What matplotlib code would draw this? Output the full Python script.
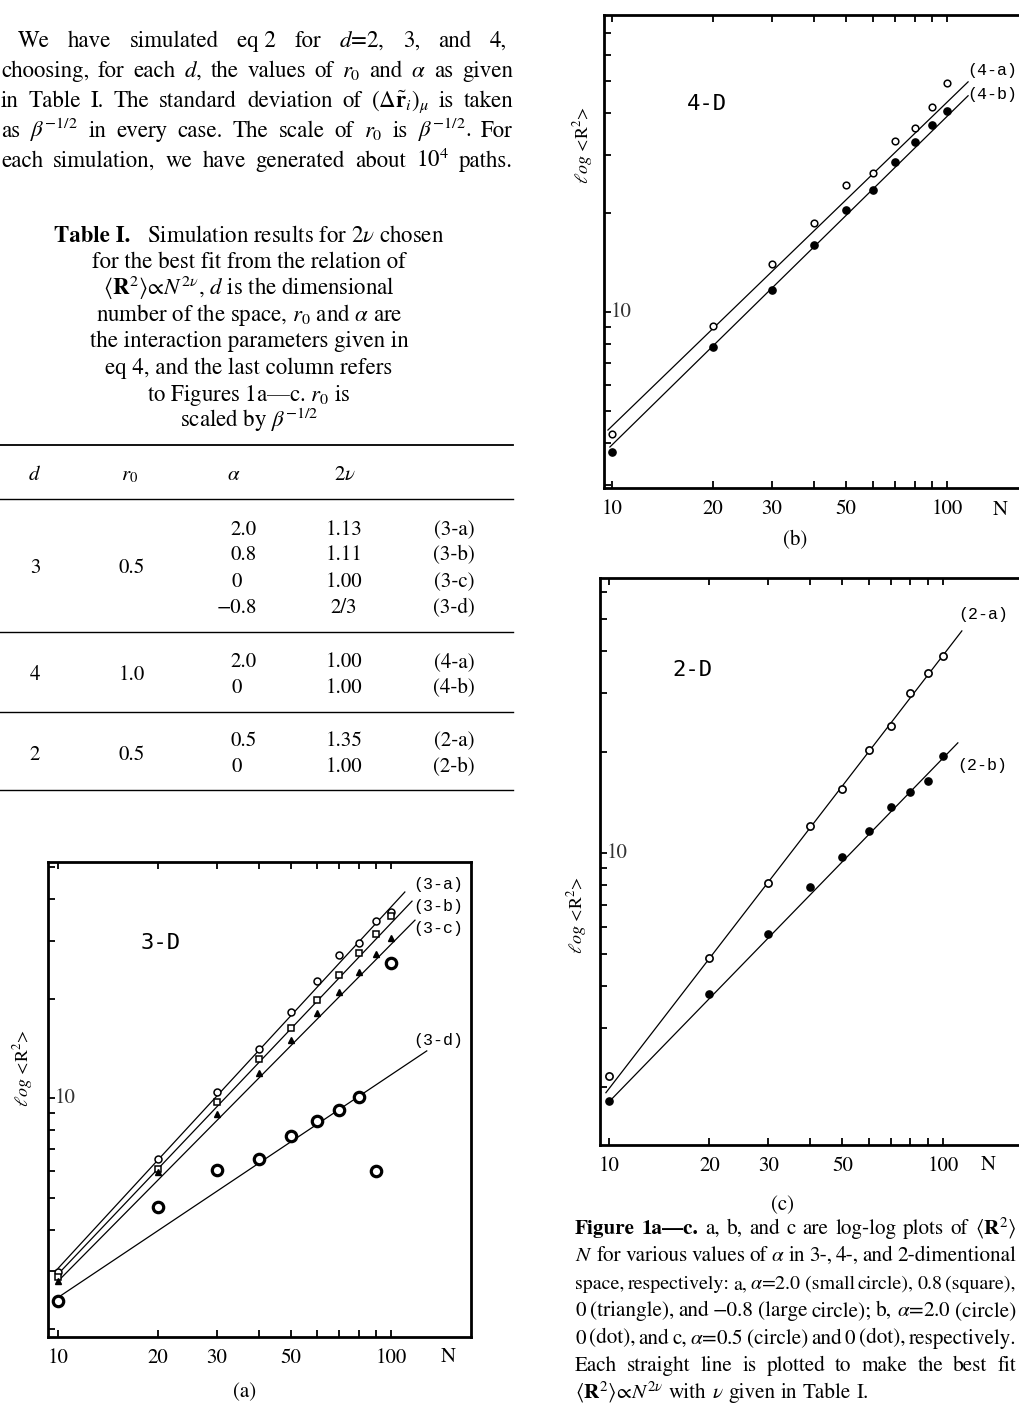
import matplotlib
matplotlib.use('Agg')
import matplotlib.pyplot as plt
from matplotlib.lines import Line2D
from matplotlib.ticker import NullLocator

plt.rcParams['font.family'] = ['STIXGeneral', 'DejaVu Serif']
plt.rcParams['mathtext.fontset'] = 'stix'

# ---------------- data ----------------
N_PTS = [10, 20, 30, 40, 50, 60, 70, 80, 90, 100]

# Fig 1a, 3-D
R2_3A = [2.97, 6.53, 10.4, 14.1, 18.2, 22.6, 27.1, 29.5, 34.4, 36.5]
R2_3B = [2.87, 6.09, 9.72, 13.1, 16.3, 19.8, 23.6, 27.5, 31.4, 35.6]
R2_3C = [2.80, 5.97, 8.94, 11.9, 15.0, 18.1, 21.0, 24.1, 27.3, 30.5]
R2_3D = [2.43, 4.68, 6.05, 6.53, 7.67, 8.52, 9.20, 10.07, 6.01, 25.6]
FIT_3A_N, FIT_3A_R = [10, 110], [3.05, 42.1]
FIT_3B_N, FIT_3B_R = [10, 115.6], [2.93, 39.5]
FIT_3C_N, FIT_3C_R = [10, 118], [2.79, 34.6]
FIT_3D_N, FIT_3D_R = [10, 128], [2.49, 13.9]

# Fig 1b, 4-D
R2_4A = [4.27, 9.07, 14.0, 18.6, 24.3, 26.4, 33.0, 36.1, 41.8, 49.4]
R2_4B = [3.77, 7.83, 11.7, 16.0, 20.4, 23.4, 28.5, 32.7, 36.9, 40.6]
FIT_4A_N, FIT_4A_R = [9.73, 115.6], [4.39, 49.8]
FIT_4B_N, FIT_4B_R = [9.86, 115.6], [3.90, 45.2]

# Fig 1c, 2-D
R2_2A = [2.16, 4.86, 8.13, 12.0, 15.5, 20.3, 23.9, 30.0, 34.5, 38.7]
R2_2B = [1.81, 3.79, 5.73, 7.92, 9.72, 11.6, 13.7, 15.2, 16.4, 19.4]
FIT_2A_N, FIT_2A_R = [9.79, 114], [1.92, 46.0]
FIT_2B_N, FIT_2B_R = [9.93, 110.9], [1.79, 21.3]

X_TICKS = [10, 20, 30, 40, 50, 60, 70, 80, 90, 100]
X_TICK_LABELS = {10: '10', 20: '20', 30: '30', 50: '50', 100: '100'}
Y_TICKS = [2, 3, 4, 5, 6, 7, 8, 9, 10, 20, 30, 40, 50, 60, 70, 80, 90]

# Table I
TABLE_D = ['3', '4', '2']
TABLE_R0 = ['0.5', '1.0', '0.5']
TABLE_ALPHA = [['2.0', '0.8', '0', '\u22120.8'], ['2.0', '0'], ['0.5', '0']]
TABLE_2NU = [['1.13', '1.11', '1.00', '2/3'], ['1.00', '1.00'], ['1.35', '1.00']]
TABLE_FIG = [['(3-a)', '(3-b)', '(3-c)', '(3-d)'], ['(4-a)', '(4-b)'], ['(2-a)', '(2-b)']]

PARAGRAPH = [
    'We have simulated eq~2 for $d$=2, 3, and 4,',
    'choosing, for each $d$, the values of $r_0$ and $\\alpha$ as given',
    'in Table I. The standard deviation of $(\\Delta\\tilde{\\mathbf{r}}_i)_\\mu$ is taken',
    'as $\\beta^{-1/2}$ in every case. The scale of $r_0$ is $\\beta^{-1/2}$. For',
    'each simulation, we have generated about 10$^4$ paths.',
]
TABLE_CAPTION = [
    'for the best fit from the relation of',
    '$\\langle\\mathbf{R}^2\\rangle\\!\\propto\\!N^{2\\nu}$, $d$ is the dimensional',
    'number of the space, $r_0$ and $\\alpha$ are',
    'the interaction parameters given in',
    'eq 4, and the last column refers',
    'to Figures 1a\u2014c. $r_0$ is',
    'scaled by $\\beta^{-1/2}$',
]
FIG_CAPTION = [
    '**Figure **1a\u2014c. a, b, and c are log-log plots of $\\langle\\mathbf{R}^2\\rangle$',
    '$N$ for various values of $\\alpha$ in 3-, 4-, and 2-dimentional',
    'space, respectively: a, $\\alpha$=2.0 (small circle), 0.8 (square),',
    '0 (triangle), and \u22120.8 (large circle); b, $\\alpha$=2.0 (circle)',
    '0 (dot), and c, $\\alpha$=0.5 (circle) and 0 (dot), respectively.',
    'Each straight line is plotted to make the best fit',
    '$\\langle\\mathbf{R}^2\\rangle\\!\\propto\\!N^{2\\nu}$ with $\\nu$ given in Table I.',
]

# ---------------- page setup (pixel coordinates, y from top) ----------------
W, H = 1019, 1407
fig = plt.figure(figsize=(W / 100, H / 100), dpi=100)
renderer = fig.canvas.get_renderer()
BODY = 16.5
CAPTION = 15.2


def fx(x):
    return x / W


def fy(y):
    return 1 - y / H


def put(x, y, s, **kw):
    kw.setdefault('fontsize', 15)
    return fig.text(fx(x), fy(y), s, **kw)


def justify(line, x0, x1, y, size=BODY, stretch=True):
    texts = []
    for w in line.split(' '):
        weight = 'normal'
        if w.startswith('**'):
            w, weight = w[2:], 'bold'
        texts.append(put(0, y, w.replace('~', ' '), fontsize=size, fontweight=weight, va='baseline'))
    widths = [t.get_window_extent(renderer).width for t in texts]
    gap = (x1 - x0 - sum(widths)) / (len(texts) - 1) if stretch else size * 100 / 72 * 0.25
    if gap < 2.5:
        for t in texts:
            t.remove()
        return justify(line, x0, x1, y, size - 0.2, stretch)
    x = x0
    for t, w in zip(texts, widths):
        t.set_x(fx(x))
        x += w + gap


def hrule(y, x0=0, x1=513, lw=1.0):
    fig.add_artist(Line2D([fx(x0), fx(x1)], [fy(y), fy(y)], transform=fig.transFigure, color='k', lw=lw))


# left paragraph
justify(PARAGRAPH[0], 18, 507, 47)
for i, line in enumerate(PARAGRAPH[1:]):
    justify(line, 1, 513, 77 + 30 * i)

# table caption
t1 = put(0, 242, 'Table I.', fontsize=BODY, fontweight='bold', va='baseline')
t2 = put(0, 242, '   Simulation results for 2$\\nu$ chosen', fontsize=BODY, va='baseline')
w1 = t1.get_window_extent(renderer).width
w2 = t2.get_window_extent(renderer).width
t1.set_x(fx(249 - (w1 + w2) / 2))
t2.set_x(fx(249 - (w1 + w2) / 2 + w1))
for i, line in enumerate(TABLE_CAPTION):
    put(249, 268 + 26.5 * i, line, fontsize=BODY, ha='center', va='baseline')

# table body
hrule(445, lw=1.3)
hrule(499)
put(35, 480, '$d$', ha='center', va='baseline')
put(130, 480, '$r_0$', ha='center', va='baseline')
put(234, 480, '$\\alpha$', ha='center', va='baseline')
put(345, 480, '$2\\nu$', ha='center', va='baseline')
row_y = [[535, 560, 587, 613], [667, 693], [746, 772]]
group_y = [573, 680, 760]
rule_y = [632, 712, 790]
for g in range(3):
    put(35, group_y[g], TABLE_D[g], ha='center', va='baseline')
    put(132, group_y[g], TABLE_R0[g], ha='center', va='baseline')
    for k, yy in enumerate(row_y[g]):
        a = TABLE_ALPHA[g][k]
        if '.' in a:
            put(257, yy, a, ha='right', va='baseline')
        else:
            put(232, yy, a, ha='left', va='baseline')
        put(344, yy, TABLE_2NU[g][k], ha='center', va='baseline')
        put(454, yy, TABLE_FIG[g][k], ha='center', va='baseline')
    hrule(rule_y[g])

# figure caption (right column)
for i, line in enumerate(FIG_CAPTION):
    justify(line, 575, 1016, 1234 + 27.4 * i, size=CAPTION, stretch=(i < len(FIG_CAPTION) - 1))


# ---------------- the three log-log panels ----------------
def panel(x0, x1, y0, y1, xlim, ylim):
    ax = fig.add_axes([fx(x0), fy(y1), (x1 - x0) / W, (y1 - y0) / H])
    ax.set_xscale('log')
    ax.set_yscale('log')
    ax.set_xticks(X_TICKS, [X_TICK_LABELS.get(t, '') for t in X_TICKS])
    ax.set_yticks(Y_TICKS, [''] * len(Y_TICKS))
    ax.xaxis.set_minor_locator(NullLocator())
    ax.yaxis.set_minor_locator(NullLocator())
    ax.set_xlim(xlim)
    ax.set_ylim(ylim)
    ax.tick_params(which='major', direction='in', length=5, width=1.3,
                   top=True, right=False, labelsize=15, pad=8)
    for s in ax.spines.values():
        s.set_linewidth(2.0)
    ax.annotate('10', xy=(0, 10), xycoords=('axes fraction', 'data'), xytext=(5, 0),
                textcoords='offset points', ha='left', va='center', fontsize=15, color='#333333')
    return ax


def ylab(x, y):
    put(x, y, '$\\ell og$ <R$^2$>', rotation=90, ha='center', va='center', fontsize=13)


mono = dict(family='Liberation Mono', fontsize=12, va='center')
open_small = dict(ls='none', mfc='white', mec='k', zorder=3)

# (a) 3-D
axa = panel(48, 471, 862, 1337, (9.33, 173.8), (1.89, 51.9))
for fn, fr in [(FIT_3A_N, FIT_3A_R), (FIT_3B_N, FIT_3B_R), (FIT_3C_N, FIT_3C_R), (FIT_3D_N, FIT_3D_R)]:
    axa.plot(fn, fr, color='k', lw=0.9)
axa.plot(N_PTS, R2_3A, marker='o', ms=5, mew=1.1, **open_small)
axa.plot(N_PTS, R2_3B, marker='s', ms=4.5, mew=1.1, **open_small)
axa.plot(N_PTS, R2_3C, marker='^', ms=5, ls='none', color='k', zorder=3)
axa.plot(N_PTS, R2_3D, marker='o', ms=7.5, mew=2.3, **open_small)
put(413, 885, '(3-a)', **mono)
put(413, 907, '(3-b)', **mono)
put(413, 928, '(3-c)', **mono)
put(413, 1040, '(3-d)', **mono)
put(161, 943, '3-D', family='DejaVu Sans Mono', fontsize=16, ha='center', va='center')
ylab(23, 1068)
put(448, 1362, 'N', ha='center', va='baseline')
put(245, 1397, '(a)', ha='center', va='baseline')

# (b) 4-D
axb = panel(604, 1023, 15, 488, (9.47, 168.6), (2.93, 79.4))
axb.plot(FIT_4A_N, FIT_4A_R, color='k', lw=0.9)
axb.plot(FIT_4B_N, FIT_4B_R, color='k', lw=0.9)
axb.plot(N_PTS, R2_4A, marker='o', ms=4.8, mew=1.1, **open_small)
axb.plot(N_PTS, R2_4B, marker='o', ms=5.2, ls='none', color='k', zorder=3)
put(967, 70, '(4-a)', **mono)
put(967, 95, '(4-b)', **mono)
put(707, 104, '4-D', family='DejaVu Sans Mono', fontsize=16, ha='center', va='center')
ylab(583, 145)
put(1000, 515, 'N', ha='center', va='baseline')
put(795, 545, '(b)', ha='center', va='baseline')

# (c) 2-D
axc = panel(600, 1023, 578, 1145, (9.40, 173.8), (1.34, 66.2))
axc.plot(FIT_2A_N, FIT_2A_R, color='k', lw=0.9)
axc.plot(FIT_2B_N, FIT_2B_R, color='k', lw=0.9)
axc.plot(N_PTS, R2_2A, marker='o', ms=5.2, mew=1.2, **open_small)
axc.plot(N_PTS, R2_2B, marker='o', ms=5.2, ls='none', color='k', zorder=3)
put(958, 615, '(2-a)', **mono)
put(957, 765, '(2-b)', **mono)
put(692, 670, '2-D', family='DejaVu Sans Mono', fontsize=16, ha='center', va='center')
ylab(577, 915)
put(988, 1170, 'N', ha='center', va='baseline')
put(782, 1210, '(c)', ha='center', va='baseline')

fig.savefig('out.png', dpi=100)
